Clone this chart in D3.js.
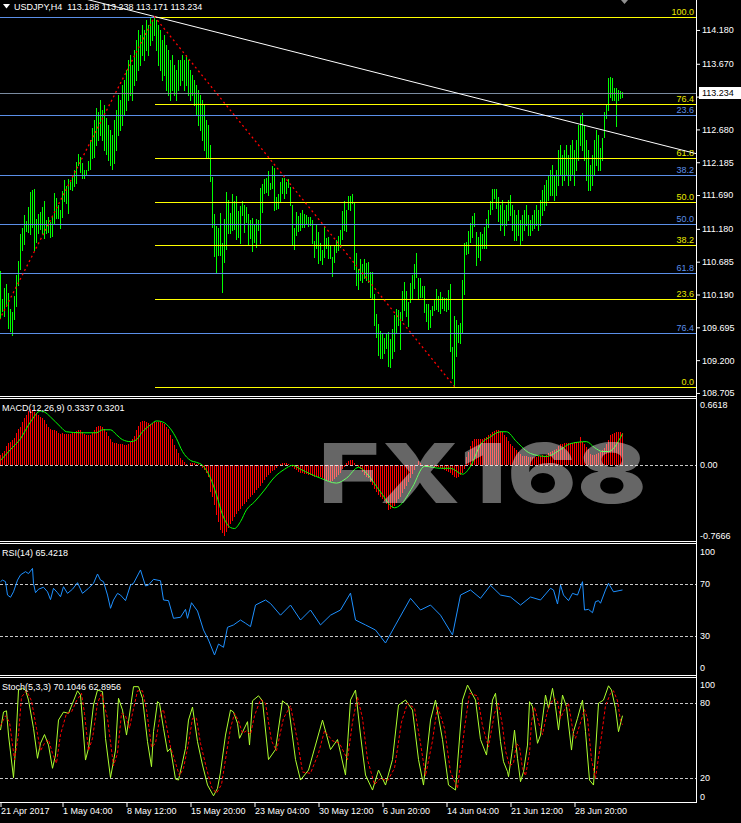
<!DOCTYPE html>
<html><head><meta charset="utf-8">
<script src="https://cdn.jsdelivr.net/npm/d3@7"></script>
<style>body{margin:0;background:#000}svg{display:block}</style>
</head><body><svg id="c" width="741" height="823"></svg>
<script>
// ---------------- DATA ----------------
const highs=[110.55,110.12,110.29,110.35,110.21,109.97,109.93,110.17,110.48,110.70,
111.10,111.19,111.39,111.30,111.51,111.74,111.77,111.78,111.33,111.40,
111.43,111.51,111.60,111.31,111.36,111.28,111.36,111.72,111.65,111.54,
111.46,111.75,111.92,111.83,111.93,111.89,111.98,112.07,112.19,112.31,
112.26,112.17,112.07,112.07,112.20,112.52,112.70,112.82,113.00,112.94,
113.12,112.97,113.05,112.85,112.75,112.67,112.60,112.82,112.97,113.20,
113.12,113.35,113.43,113.58,113.73,113.80,113.65,113.88,114.03,114.18,
114.10,114.25,114.18,114.33,114.25,114.38,114.33,114.38,114.33,114.25,
114.18,114.03,114.10,113.95,113.88,113.73,113.80,113.65,113.58,113.73,
113.73,113.80,113.73,113.80,113.73,113.58,113.50,113.43,113.35,113.27,
113.20,113.12,113.05,112.82,112.75,112.45,111.96,111.40,111.22,111.19,
111.42,110.97,111.33,111.74,111.62,111.42,111.71,111.60,111.68,111.45,
111.52,111.60,111.54,111.51,111.40,111.31,111.34,111.24,111.33,111.31,
111.80,111.86,111.93,111.95,112.05,111.87,112.13,112.10,111.66,111.71,
111.89,111.95,111.95,111.89,111.93,111.81,111.54,111.19,111.43,111.37,
111.42,111.46,111.40,111.39,111.36,111.36,111.31,111.00,111.24,111.13,
110.97,110.86,111.21,111.04,111.06,110.92,110.76,110.92,111.01,111.07,
111.16,111.45,111.60,111.46,111.68,111.68,111.71,111.57,110.82,110.57,
110.73,110.65,110.73,110.67,110.68,110.53,110.53,110.20,109.90,109.75,
109.64,109.61,109.53,109.61,109.62,109.52,109.67,109.88,109.97,109.96,
109.93,110.24,110.38,110.24,110.08,110.36,110.48,110.65,110.82,110.44,
110.44,110.32,110.32,110.05,110.05,109.96,110.02,110.11,110.27,110.17,
110.23,110.15,110.14,110.14,110.26,110.35,109.40,109.87,109.81,109.73,
109.76,110.41,110.97,110.98,111.15,111.27,111.37,111.42,111.13,111.06,
111.13,111.10,111.21,111.33,111.46,111.60,111.78,111.78,111.78,111.66,
111.54,111.62,111.46,111.54,111.62,111.69,111.54,111.46,111.39,111.46,
111.31,111.39,111.46,111.54,111.39,111.31,111.39,111.46,111.54,111.46,
111.62,111.77,111.84,111.92,111.99,112.07,112.14,111.99,112.07,112.37,
112.45,112.29,112.37,112.45,112.29,112.45,112.52,112.37,112.52,112.75,
112.90,112.93,112.75,112.52,112.37,112.14,112.29,112.52,112.67,112.60,
112.40,112.55,112.94,113.05,113.46,113.47,113.46,113.30,113.30,113.27,113.26,113.24];
const lows=[109.84,109.94,109.87,110.02,109.68,109.64,109.58,109.82,110.02,110.33,
110.57,110.86,110.95,111.15,111.13,111.10,111.21,110.86,110.98,111.12,
111.18,111.12,111.04,111.12,111.13,111.06,111.07,111.27,111.34,111.34,
111.19,111.36,111.60,111.57,111.42,111.78,111.77,111.83,111.87,112.14,
112.04,111.95,111.95,111.99,112.07,112.08,112.25,112.26,112.45,112.52,
112.60,112.52,112.37,112.31,112.22,112.14,112.08,112.17,112.37,112.60,
112.67,112.75,112.90,112.97,113.12,113.20,113.12,113.35,113.43,113.58,
113.65,113.80,113.73,113.88,113.80,113.95,114.03,114.10,113.88,113.65,
113.58,113.43,113.50,113.27,113.20,113.12,113.27,113.20,113.12,113.27,
113.35,113.43,113.27,113.35,113.20,113.12,113.20,113.05,112.90,112.75,
112.67,112.52,112.37,112.25,112.25,111.90,111.21,110.77,110.51,110.79,
110.79,110.23,110.68,110.88,111.12,111.12,111.16,111.18,111.03,111.06,
110.97,111.39,111.13,111.28,110.94,111.04,110.85,110.98,110.91,111.16,
110.97,111.43,111.72,111.74,111.69,111.78,111.80,111.46,111.48,111.49,
111.60,111.72,111.65,111.72,111.81,111.54,110.95,110.88,111.09,111.15,
111.16,111.21,111.21,111.27,111.22,111.24,110.97,110.76,110.89,110.67,
110.71,110.65,110.76,110.89,110.74,110.74,110.47,110.68,110.83,110.86,
110.91,111.03,111.16,111.15,111.48,111.46,111.57,110.57,110.33,110.27,
110.41,110.38,110.44,110.41,110.38,110.15,110.14,109.73,109.55,109.28,
109.23,109.23,109.31,109.38,109.11,109.10,109.23,109.34,109.61,109.73,
109.37,109.81,109.96,109.87,109.72,110.08,110.14,110.29,110.45,110.14,
110.15,110.15,109.93,109.79,109.67,109.70,109.88,109.96,109.97,109.94,
109.91,109.99,109.96,109.94,109.97,109.34,108.93,108.80,109.26,109.47,
109.46,109.61,110.20,110.80,110.82,110.98,111.06,111.22,110.64,110.76,
110.71,110.89,110.89,110.89,111.21,111.40,111.48,111.65,111.49,111.30,
111.16,111.24,111.09,111.24,111.31,111.39,111.16,111.01,111.01,111.09,
110.94,111.01,111.16,111.24,111.09,111.09,111.16,111.19,111.24,111.16,
111.24,111.39,111.46,111.54,111.62,111.69,111.69,111.62,111.69,111.84,
111.99,111.84,111.92,111.99,111.84,111.92,111.99,111.84,112.07,112.22,
112.45,112.37,112.22,111.92,111.77,111.77,111.84,111.99,112.14,112.07,
112.07,112.22,112.57,112.85,112.97,113.17,113.12,113.12,112.73,113.12,113.15,113.17];

const macdHist=[0.10,0.12,0.15,0.20,0.23,0.24,0.26,0.28,0.33,0.37,
0.39,0.44,0.48,0.51,0.55,0.57,0.56,0.54,0.53,0.51,
0.49,0.48,0.46,0.42,0.39,0.37,0.36,0.36,0.35,0.33,
0.32,0.33,0.32,0.32,0.32,0.32,0.33,0.34,0.35,0.36,
0.36,0.34,0.32,0.31,0.31,0.31,0.33,0.36,0.39,0.40,
0.40,0.39,0.37,0.34,0.30,0.27,0.24,0.23,0.23,0.22,
0.22,0.22,0.21,0.21,0.22,0.24,0.27,0.30,0.36,0.40,
0.44,0.45,0.45,0.44,0.43,0.42,0.43,0.44,0.44,0.44,
0.44,0.43,0.42,0.39,0.37,0.31,0.27,0.21,0.17,0.12,
0.07,0.05,0.03,0.01,0.00,0.02,0.02,0.02,0.01,0.01,
0.00,-0.03,-0.05,-0.08,-0.12,-0.27,-0.32,-0.40,-0.50,-0.57,
-0.66,-0.69,-0.72,-0.68,-0.63,-0.59,-0.56,-0.52,-0.49,-0.46,
-0.44,-0.41,-0.39,-0.37,-0.34,-0.32,-0.30,-0.28,-0.25,-0.23,
-0.21,-0.18,-0.15,-0.12,-0.10,-0.08,-0.06,-0.05,-0.03,-0.01,
0.01,0.02,0.02,0.02,0.01,0.00,-0.02,-0.04,-0.05,-0.07,
-0.08,-0.08,-0.09,-0.09,-0.10,-0.10,-0.11,-0.12,-0.12,-0.12,
-0.12,-0.13,-0.14,-0.15,-0.16,-0.17,-0.16,-0.14,-0.12,-0.10,
-0.08,-0.04,-0.02,0.02,0.04,0.05,0.05,0.02,0.00,-0.02,
-0.04,-0.07,-0.10,-0.12,-0.13,-0.17,-0.20,-0.24,-0.27,-0.30,
-0.32,-0.34,-0.36,-0.39,-0.45,-0.44,-0.43,-0.41,-0.38,-0.34,
-0.32,-0.28,-0.24,-0.21,-0.17,-0.13,-0.09,-0.05,-0.01,0.04,
0.02,0.00,-0.01,-0.02,-0.02,-0.02,-0.01,-0.02,-0.02,-0.02,
-0.03,-0.04,-0.05,-0.06,-0.07,-0.08,-0.10,-0.12,-0.13,-0.12,
-0.10,-0.08,-0.04,0.08,0.14,0.20,0.25,0.27,0.27,0.27,
0.27,0.27,0.28,0.29,0.31,0.32,0.34,0.35,0.36,0.36,
0.35,0.34,0.31,0.29,0.25,0.22,0.20,0.18,0.16,0.13,
0.11,0.09,0.09,0.09,0.08,0.08,0.08,0.08,0.08,0.09,
0.09,0.10,0.09,0.10,0.12,0.14,0.15,0.16,0.17,0.20,
0.22,0.22,0.23,0.23,0.23,0.23,0.23,0.24,0.24,0.24,
0.29,0.24,0.22,0.19,0.17,0.11,0.10,0.10,0.11,0.12,
0.14,0.16,0.18,0.22,0.26,0.31,0.32,0.33,0.34,0.34,0.34,0.33];

const macdSignal=[[0,0.05],[5,0.16],[10,0.27],[15,0.44],[20,0.55],[22,0.54],[25,0.49],[30,0.39],[33,0.34],[40,0.33],[48,0.33],[51,0.36],[55,0.36],[58,0.31],[61,0.26],[65,0.24],[68,0.26],[71,0.34],[75,0.41],[78,0.45],[81,0.44],[85,0.37],[88,0.27],[91,0.14],[95,0.05],[98,0.03],[101,0.0],[105,-0.13],[108,-0.30],[111,-0.50],[115,-0.63],[117,-0.64],[120,-0.57],[123,-0.45],[127,-0.37],[132,-0.25],[137,-0.12],[142,-0.04],[146,0.0],[150,-0.04],[160,-0.13],[168,-0.18],[173,-0.13],[179,-0.02],[183,-0.08],[190,-0.27],[197,-0.43],[200,-0.40],[206,-0.22],[212,-0.01],[220,-0.03],[225,-0.03],[231,-0.09],[235,-0.01],[240,0.21],[245,0.29],[250,0.34],[253,0.34],[258,0.24],[265,0.12],[273,0.09],[280,0.16],[285,0.22],[293,0.24],[297,0.18],[301,0.14],[304,0.14],[311,0.32]];

const rsiPts=[[0,71.8],[1,73],[2.5,71.8],[3.5,61.5],[5,59.8],[6.5,64],[8.5,73],[10,77],[12.5,79.5],[14,78],[16,82],[16.5,70.5],[17.5,63.3],[19,66],[21.5,67.5],[23.5,64],[25,58],[26.5,66.7],[28.5,63.3],[30,60.2],[31.5,67.9],[33.5,62.8],[36,66],[38.5,71],[41,62.8],[44,66.7],[46.5,70.5],[48.5,77.7],[50,73],[51.5,71.8],[53.5,61.5],[55,51.3],[56.5,57.7],[58.5,62.8],[60,61.5],[62.5,57.2],[65,69.2],[66.5,70.5],[70,80.8],[72.5,68.5],[74,69.2],[76.5,73.6],[80,72.5],[81.5,57.7],[84,57.2],[86.5,43.6],[90,44.4],[92.5,50.5],[93.5,43.6],[95.5,55.6],[98.5,49.2],[101.5,34.6],[104,26.9],[107,15.4],[109,23.8],[111.5,21.3],[113.5,36.7],[116.5,38.5],[120,42.3],[122.5,39.8],[125,37.2],[127.5,53.8],[132.5,57.7],[135,55],[140,46],[145,53.8],[150,42.3],[155,50],[160,38.5],[165,46],[170,50],[175,63],[177.5,42.3],[182.5,38.5],[187.5,34.6],[192.5,24.6],[197.5,38.5],[205,59],[210,50],[215,53.8],[220,46],[226,30.8],[230,61.5],[235,65.4],[240,59],[245,69],[250,61.5],[255,60],[260,53.8],[265,60],[270,57.7],[275,66.7],[276.5,65.4],[278.5,54.6],[280,69.2],[281.5,61.5],[284,57.2],[286,62.8],[288.5,61.5],[291,71.8],[292,50],[294,50.5],[296,47.9],[297.5,56.4],[299,57.2],[300,55.2],[302.5,65.4],[304,70.5],[306.5,64],[311,65.4]];

const stochMain=[[0,58.6],[1.5,73],[3,74],[4,54.6],[6.5,20.5],[7.5,44],[9,90.6],[11,92],[12.5,90.6],[14,82.6],[16.5,60],[18.5,36],[20,48],[22,55],[24,46.6],[26,28],[27.5,38.6],[29,66.6],[31.5,73],[34,72],[36,80],[38.5,90],[40,86.6],[42.5,34.6],[44,44],[46.5,78.6],[48.5,90.6],[51,89.3],[52.5,52],[55,20.5],[57.5,42.6],[59,84],[61,74.6],[63,54.6],[64,65.3],[66.5,93.3],[69,93.3],[71,84],[73.5,49.3],[75.5,29.3],[76.5,57.3],[78.5,81.3],[79.5,80],[81.5,60],[83.5,41.3],[85,44],[87.5,19.4],[89,18.6],[91,33],[92.5,44],[94,66.6],[96,77],[98.5,49.3],[101,30.6],[103.5,14.6],[106.5,6],[108.5,12],[110,25],[112.5,54.6],[115,74.6],[116.5,73],[118.5,64],[119.5,52],[121.5,58.6],[123.5,65.3],[124.5,46.6],[126,82],[129,86],[131,82],[134,35],[137.5,43],[141,82],[144,78],[147.5,35],[150,18.6],[154,26.6],[157.5,46.6],[161,66.6],[165,43],[168.5,51],[172.5,22.6],[175,82.6],[177.5,90.6],[180,54.6],[182.5,22.6],[186,10.6],[189,26.6],[192.5,14.6],[196,35],[199,78.6],[202.5,82.6],[206,74.6],[209,35],[211.5,14.6],[215,66.6],[217.5,82.6],[221,51],[224,14.6],[227.5,10.6],[231,82.6],[233.5,94.6],[237.5,82.6],[240,51],[243,38.6],[246,82.6],[247.5,88],[250,49.3],[251.5,33.3],[253.5,25.3],[254,21.3],[256,44],[257,58.6],[258.5,36],[260,17.3],[261.5,25.3],[263.5,46.6],[264.5,81.3],[266,77.3],[268.5,48],[270,54.6],[272.5,86.6],[274,76],[276,92],[277.5,77.3],[279,58.6],[281,86.6],[283,77.3],[285.5,42.6],[286.5,57.3],[288.5,68],[291,82.6],[292.5,57.3],[294.5,18.6],[296.5,14.6],[299,80],[301.5,82.6],[304,94],[305.5,90.6],[307.5,76],[309,57.3],[311,70.1]];

const stochSignal=[[0,62],[2.5,70],[4.5,65],[7,35],[9,55],[10.5,85],[13,90],[15.5,82],[18,60],[20,42],[22,48],[24,51],[26,40],[28,32],[30,55],[33,72],[35.5,73],[38,82],[40.5,88],[42,72],[44,42],[46,52],[48.5,80],[50.5,88],[53.5,68],[56.5,30],[58.5,40],[60.5,72],[62.5,70],[64.5,60],[66,72],[68.5,90],[71,90],[73,75],[75.5,45],[77.5,48],[80,72],[81.5,75],[83,62],[85,45],[87,35],[89.5,22],[91.5,28],[94,48],[96,68],[98,68],[100,48],[103,28],[105.5,13],[108,8],[110.5,15],[112.5,35],[115,60],[117,72],[119,66],[121,56],[123,58],[125,55],[127,70],[130,83],[132.5,80],[135.5,50],[138,42],[141.5,68],[145,78],[148.5,50],[151,25],[155,24],[159,40],[162,58],[166,50],[169.5,48],[173.5,35],[176,65],[178.5,85],[181,68],[183.5,35],[187,15],[190,20],[193.5,18],[197,28],[200.5,65],[203.5,80],[207,76],[210,48],[212.5,22],[216,50],[218.5,78],[222,60],[225,25],[228.5,12],[232,60],[234.5,88],[238.5,86],[241,62],[244,45],[247,72],[249,80],[251,62],[252.5,42],[254.5,30],[256.5,32],[258,48],[259.5,45],[261,28],[262.5,22],[264.5,40],[265.5,65],[267,77],[269.5,62],[271,55],[273.5,74],[275,80],[277,84],[278.5,82],[280,68],[282,75],[284,80],[286.5,55],[287.5,52],[289.5,62],[292,75],[293.5,68],[295.5,35],[297.5,20],[300,48],[302.5,78],[305,88],[306.5,90],[308.5,82],[310,66],[311,62.9]];

const priceTicks=[114.180,113.670,113.175,112.680,112.185,111.690,111.180,110.685,110.190,109.695,109.200,108.705];
const lastPrice=113.234;
const xTickBars=[0,31,63,95,127,159,191,223,255,287];
const xTickLabels=["21 Apr 2017","1 May 04:00","8 May 12:00","15 May 20:00","23 May 04:00","30 May 12:00","6 Jun 20:00","14 Jun 04:00","21 Jun 12:00","28 Jun 20:00"];
const fibRatios=[0,23.6,38.2,50.0,61.8,76.4,100.0];
const fibYellow={startBar:77,high:114.38,low:108.80};
const fibBlue={startBar:-29,high:114.37,low:108.13};
const zigzag=[[-29,108.13],[77,114.38],[227,108.80]];
const trendPts=[[80,114.36],[300,112.68]];
const macdTicks=[0.6618,0,-0.7666], macdTickLabels=["0.6618","0.00","-0.7666"];
const rsiTicks=[100,70,30,0], stochTicks=[100,80,20,0];
const header="USDJPY,H4  113.188 113.238 113.171 113.234";
const macdTitle="MACD(12,26,9) 0.3337 0.3201";
const rsiTitle="RSI(14) 65.4218";
const stochTitle="Stoch(5,3,3) 70.1046 62.8956";

// ---------------- DRAW ----------------
const FONT='"Liberation Sans", Arial, sans-serif';
const AX=696;
const svg=d3.select('#c');
svg.append('rect').attr('width',741).attr('height',823).attr('fill','#000');
const defs=svg.append('defs');
defs.append('clipPath').attr('id','cm').append('rect').attr('x',0).attr('y',0).attr('width',AX).attr('height',396);
defs.append('clipPath').attr('id','cmacd').append('rect').attr('x',0).attr('y',399).attr('width',AX).attr('height',142);
defs.append('clipPath').attr('id','crsi').append('rect').attr('x',0).attr('y',544).attr('width',AX).attr('height',131);
defs.append('clipPath').attr('id','cst').append('rect').attr('x',0).attr('y',678).attr('width',AX).attr('height',124);

const xS=d3.scaleLinear().domain([0,311]).range([0.5,622.5]);
const yP=d3.scaleLinear().domain([114.632,108.705]).range([0,392.96]);
const yM=d3.scaleLinear().domain([0.6618,-0.7666]).range([400,541]);
const yR=d3.scaleLinear().domain([100,0]).range([545,675]);
const yS=d3.scaleLinear().domain([100,0]).range([678.3,803.3]);
const cr=v=>Math.round(v)+0.5;

// main panel
const gm=svg.append('g').attr('clip-path','url(#cm)');
gm.selectAll('line.bar').data(highs.map((h,i)=>({i,h,l:lows[i]}))).join('line')
  .attr('x1',d=>xS(d.i)).attr('x2',d=>xS(d.i))
  .attr('y1',d=>Math.round(yP(d.h))).attr('y2',d=>Math.round(yP(d.l))+1)
  .attr('stroke','#00ff00').attr('stroke-width',1).attr('shape-rendering','crispEdges');

gm.append('line').attr('x1',0).attr('x2',AX).attr('y1',cr(yP(lastPrice))).attr('y2',cr(yP(lastPrice)))
  .attr('stroke','#7a8ba0').attr('shape-rendering','crispEdges');

fibRatios.forEach(r=>{
  const p=fibBlue.high-r/100*(fibBlue.high-fibBlue.low);
  const y=cr(yP(p));
  gm.append('line').attr('x1',Math.max(0,xS(fibBlue.startBar))).attr('x2',AX).attr('y1',y).attr('y2',y)
    .attr('stroke','#5b8fe8').attr('shape-rendering','crispEdges');
  if(r>0&&r<100) gm.append('text').attr('x',694).attr('y',y-3).attr('text-anchor','end')
    .attr('fill','#5b8fe8').attr('font-family',FONT).attr('font-size',9).text(r.toFixed(1));
});
fibRatios.forEach(r=>{
  const p=fibYellow.low+r/100*(fibYellow.high-fibYellow.low);
  const y=cr(yP(p));
  gm.append('line').attr('x1',xS(fibYellow.startBar)).attr('x2',AX).attr('y1',y).attr('y2',y)
    .attr('stroke','#ffff00').attr('shape-rendering','crispEdges');
  gm.append('text').attr('x',694).attr('y',y-3).attr('text-anchor','end')
    .attr('fill','#e8e800').attr('font-family',FONT).attr('font-size',9).text(r.toFixed(1));
});
{
  const s=(trendPts[1][1]-trendPts[0][1])/(trendPts[1][0]-trendPts[0][0]);
  const b0=42,b1=350;
  gm.append('line').attr('x1',xS(b0)).attr('y1',yP(trendPts[0][1]+s*(b0-trendPts[0][0])))
    .attr('x2',xS(b1)).attr('y2',yP(trendPts[0][1]+s*(b1-trendPts[0][0])))
    .attr('stroke','#fff').attr('stroke-width',1);
}
gm.append('path').attr('d',d3.line().x(d=>xS(d[0])).y(d=>yP(d[1]))(zigzag))
  .attr('fill','none').attr('stroke','#ff0000').attr('stroke-width',1.3).attr('stroke-dasharray','2,3');

svg.append('path').attr('d','M3,4 L10,4 L6.5,8.5 Z').attr('fill','#fff');
svg.append('text').attr('x',14).attr('y',9.5).attr('fill','#fff').attr('font-family',FONT).attr('font-size',9)
  .attr('xml:space','preserve').style('white-space','pre').text(header);
svg.append('path').attr('d','M621,0 L628,0 L624.5,4 Z').attr('fill','#909090');

// MACD panel
const gmac=svg.append('g').attr('clip-path','url(#cmacd)');
gmac.selectAll('line.h').data(macdHist).join('line')
  .attr('x1',(d,i)=>xS(i)).attr('x2',(d,i)=>xS(i))
  .attr('y1',Math.round(yM(0))).attr('y2',d=>Math.round(yM(d)))
  .attr('stroke','#ff0000').attr('shape-rendering','crispEdges');
gmac.append('line').attr('x1',0).attr('x2',AX).attr('y1',cr(yM(0))).attr('y2',cr(yM(0)))
  .attr('stroke','#c8c8c8').attr('stroke-dasharray','3,2').attr('shape-rendering','crispEdges');
gmac.append('path').attr('d',d3.line().x(d=>xS(d[0])).y(d=>yM(d[1])).curve(d3.curveMonotoneX)(macdSignal))
  .attr('fill','none').attr('stroke','#00ff00').attr('stroke-width',1);
// watermark
svg.append('text').attr('x',318).attr('y',503).text('FX168')
  .attr('font-family','Inter, Roboto, sans-serif').attr('font-weight',800).attr('font-size',83)
  .attr('textLength',329).attr('lengthAdjust','spacingAndGlyphs')
  .attr('fill','#fff').attr('fill-opacity',0.4);

// RSI panel
const grs=svg.append('g').attr('clip-path','url(#crsi)');
[70,30].forEach(v=>grs.append('line').attr('x1',0).attr('x2',AX).attr('y1',cr(yR(v))).attr('y2',cr(yR(v)))
  .attr('stroke','#c8c8c8').attr('stroke-dasharray','3,2').attr('shape-rendering','crispEdges'));
grs.append('path').attr('d',d3.line().x(d=>xS(d[0])).y(d=>yR(d[1]))(rsiPts))
  .attr('fill','none').attr('stroke','#1e90ff').attr('stroke-width',1);

// Stoch panel
const gst=svg.append('g').attr('clip-path','url(#cst)');
[80,20].forEach(v=>gst.append('line').attr('x1',0).attr('x2',AX).attr('y1',cr(yS(v))).attr('y2',cr(yS(v)))
  .attr('stroke','#c8c8c8').attr('stroke-dasharray','3,2').attr('shape-rendering','crispEdges'));
gst.append('path').attr('d',d3.line().x(d=>xS(d[0])).y(d=>yS(d[1]))(stochMain))
  .attr('fill','none').attr('stroke','#adff2f').attr('stroke-width',1);
gst.append('path').attr('d',d3.line().x(d=>xS(d[0])).y(d=>yS(d[1]))(stochSignal))
  .attr('fill','none').attr('stroke','#ff0000').attr('stroke-width',1).attr('stroke-dasharray','3,2');

// borders
[396.5,398.5,541.5,543.5,675.5,677.5,802.5].forEach(y=>svg.append('line').attr('x1',0).attr('x2',AX).attr('y1',y).attr('y2',y)
  .attr('stroke','#fff').attr('shape-rendering','crispEdges'));
svg.append('line').attr('x1',AX+0.5).attr('x2',AX+0.5).attr('y1',0).attr('y2',803).attr('stroke','#fff').attr('shape-rendering','crispEdges');

[[macdTitle,407.5],[rsiTitle,553],[stochTitle,687]].forEach(([t,y])=>svg.append('text').attr('x',2).attr('y',y).attr('dy','0.35em')
  .attr('fill','#fff').attr('font-family',FONT).attr('font-size',9).text(t));

// price axis (label hidden behind the last-price box is left blank)
const pa=svg.append('g').attr('transform',`translate(${AX},0)`)
  .call(d3.axisRight(yP).tickValues(priceTicks).tickSize(4).tickPadding(2)
    .tickFormat(d=>Math.abs(yP(d)-yP(lastPrice))<10?'':d3.format('.3f')(d)));
pa.select('.domain').remove();
pa.selectAll('line').attr('stroke','#fff');
pa.selectAll('text').attr('fill','#fff').attr('font-family',FONT).attr('font-size',9);
pa.attr('font-family',FONT).attr('font-size',9);
{
  const y=yP(lastPrice);
  svg.append('rect').attr('x',699).attr('y',Math.round(y)-6).attr('width',42).attr('height',12).attr('fill','#fff');
  svg.append('text').attr('x',702).attr('y',y).attr('dy','0.35em').attr('fill','#000').attr('font-family',FONT).attr('font-size',9).text(lastPrice.toFixed(3));
}
function sideLabels(scale,ticks,labels,edgeOff){
  ticks.forEach((v,i)=>{
    let y=scale(v);
    if(i===0) y+=edgeOff; if(i===ticks.length-1) y-=edgeOff;
    svg.append('text').attr('x',700).attr('y',y).attr('dy','0.35em').attr('fill','#fff')
      .attr('font-family',FONT).attr('font-size',9).text(labels[i]);
  });
}
sideLabels(yM,macdTicks,macdTickLabels,5.3);
sideLabels(yR,rsiTicks,rsiTicks.map(String),6.7);
sideLabels(yS,stochTicks,stochTicks.map(String),6.3);

const xa=svg.append('g').attr('transform','translate(0,803)')
  .call(d3.axisBottom(xS).tickValues(xTickBars).tickSize(4).tickPadding(2).tickFormat((d,i)=>xTickLabels[i]));
xa.select('.domain').remove();
xa.selectAll('line').attr('stroke','#fff');
xa.selectAll('text').attr('fill','#fff').attr('font-family',FONT).attr('font-size',9).attr('text-anchor','start').attr('x',0).attr('dy','0.55em');
</script></body></html>
